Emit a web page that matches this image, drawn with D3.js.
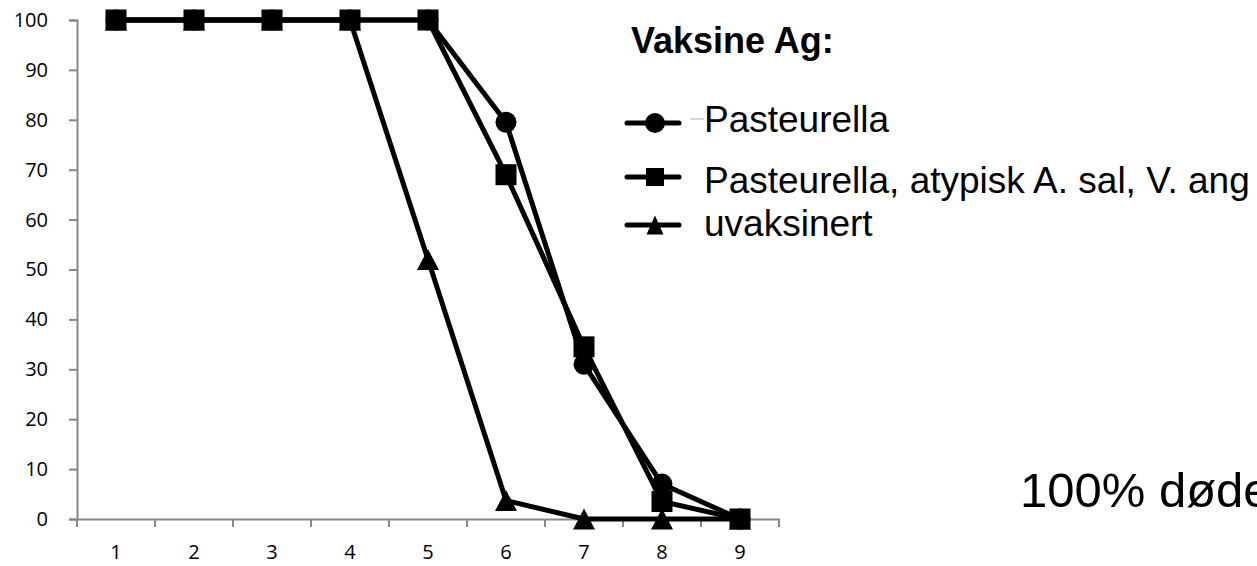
<!DOCTYPE html>
<html><head><meta charset="utf-8">
<script src="https://cdn.jsdelivr.net/npm/d3@7"></script>
<style>body{margin:0;background:#fff}svg{display:block}</style>
</head><body>
<svg id="c" width="1257" height="566"></svg>
<script>
const categories = ["1","2","3","4","5","6","7","8","9"];
const yTicks = [0,10,20,30,40,50,60,70,80,90,100];
const pasteurella = [100,100,100,100,100,79.5,31,7,0];
const pasteurellaMix = [100,100,100,100,100,69,34.5,3.5,0];
const uvaksinert = [100,100,100,100,52,3.7,0,0,0];
const seriesNames = ["Pasteurella","Pasteurella, atypisk A. sal, V. ang","uvaksinert"];
const legendTitle = "Vaksine Ag:";
const note = "100% døde";

const svg = d3.select("#c");
const x = d3.scaleBand().domain(categories).range([77,779]);
const y = d3.scaleLinear().domain([0,100]).range([519,20]);
const axisColor = "#878787";
const tickFont = "'Open Sans', sans-serif";

// y axis
const gy = svg.append("g").attr("transform","translate(77,0)")
  .call(d3.axisLeft(y).tickValues(yTicks).tickSize(8).tickPadding(21));
gy.select(".domain").attr("stroke",axisColor).attr("stroke-width",2);
gy.selectAll(".tick line").attr("stroke",axisColor).attr("stroke-width",2);
gy.selectAll(".tick text").style("font-family",tickFont).style("font-size","20px").attr("fill","#000");

// x axis
const gx = svg.append("g").attr("transform","translate(0,519)")
  .call(d3.axisBottom(x).tickSize(0).tickPadding(26));
gx.select(".domain").attr("stroke",axisColor).attr("stroke-width",2);
gx.selectAll(".tick text").style("font-family",tickFont).style("font-size","20px").attr("fill","#000");
const bounds = categories.map(c=>x(c)).concat([x.range()[1]]);
svg.append("g").selectAll("line").data(bounds).join("line")
  .attr("x1",d=>d).attr("x2",d=>d).attr("y1",519).attr("y2",527)
  .attr("stroke",axisColor).attr("stroke-width",2);

const cx = c => x(c) + x.bandwidth()/2;
const line = d3.line().x((d,i)=>cx(categories[i])).y(d=>y(d));

function tri(w,h){ return `M0,${-h/2}L${w/2},${h/2}L${-w/2},${h/2}Z`; }
function sq(s){ return `M${-s/2},${-s/2}h${s}v${s}h${-s}Z`; }
function circ(r){ return d3.symbol().type(d3.symbolCircle).size(Math.PI*r*r)(); }

const series = [
  {name:seriesNames[0], data:pasteurella, shape:circ(10.5)},
  {name:seriesNames[2], data:uvaksinert, shape:tri(22,21)},
  {name:seriesNames[1], data:pasteurellaMix, shape:sq(21)}
];

series.forEach(s=>{
  svg.append("path").datum(s.data).attr("d",line)
    .attr("fill","none").attr("stroke","#000").attr("stroke-width",5).attr("stroke-linejoin","round");
});
series.forEach(s=>{
  svg.append("g").selectAll("path").data(s.data).join("path")
    .attr("d",s.shape)
    .attr("transform",(d,i)=>`translate(${cx(categories[i])},${y(d)})`)
    .attr("fill","#000");
});

// legend
svg.append("text").attr("x",631).attr("y",53).text(legendTitle)
  .style("font-family","'Liberation Sans', Arial, sans-serif").style("font-weight","bold").style("font-size","36px");
const legendItems = [
  {name:seriesNames[0], shape:circ(10), y:123, ty:132},
  {name:seriesNames[1], shape:sq(18), y:177, ty:193},
  {name:seriesNames[2], shape:tri(17,19), y:225, ty:236}
];
const lg = svg.append("g");
lg.selectAll("line.l").data(legendItems).join("line")
  .attr("x1",627).attr("x2",679).attr("y1",d=>d.y).attr("y2",d=>d.y)
  .attr("stroke","#000").attr("stroke-width",5).attr("stroke-linecap","round");
lg.selectAll("path").data(legendItems).join("path")
  .attr("d",d=>d.shape)
  .attr("transform",d=>`translate(655,${d.y})`).attr("fill","#000");
lg.append("line").attr("x1",690).attr("x2",704).attr("y1",119).attr("y2",119)
  .attr("stroke","#999").attr("stroke-width",0.8);
lg.selectAll("text").data(legendItems).join("text")
  .attr("x",704).attr("y",d=>d.ty).text(d=>d.name)
  .style("font-family","'Liberation Sans', Arial, sans-serif").style("font-size","37px");

svg.append("text").attr("x",1020).attr("y",507).text(note)
  .style("font-family","'Liberation Sans', Arial, sans-serif").style("font-size","49px");
</script>
</body></html>
